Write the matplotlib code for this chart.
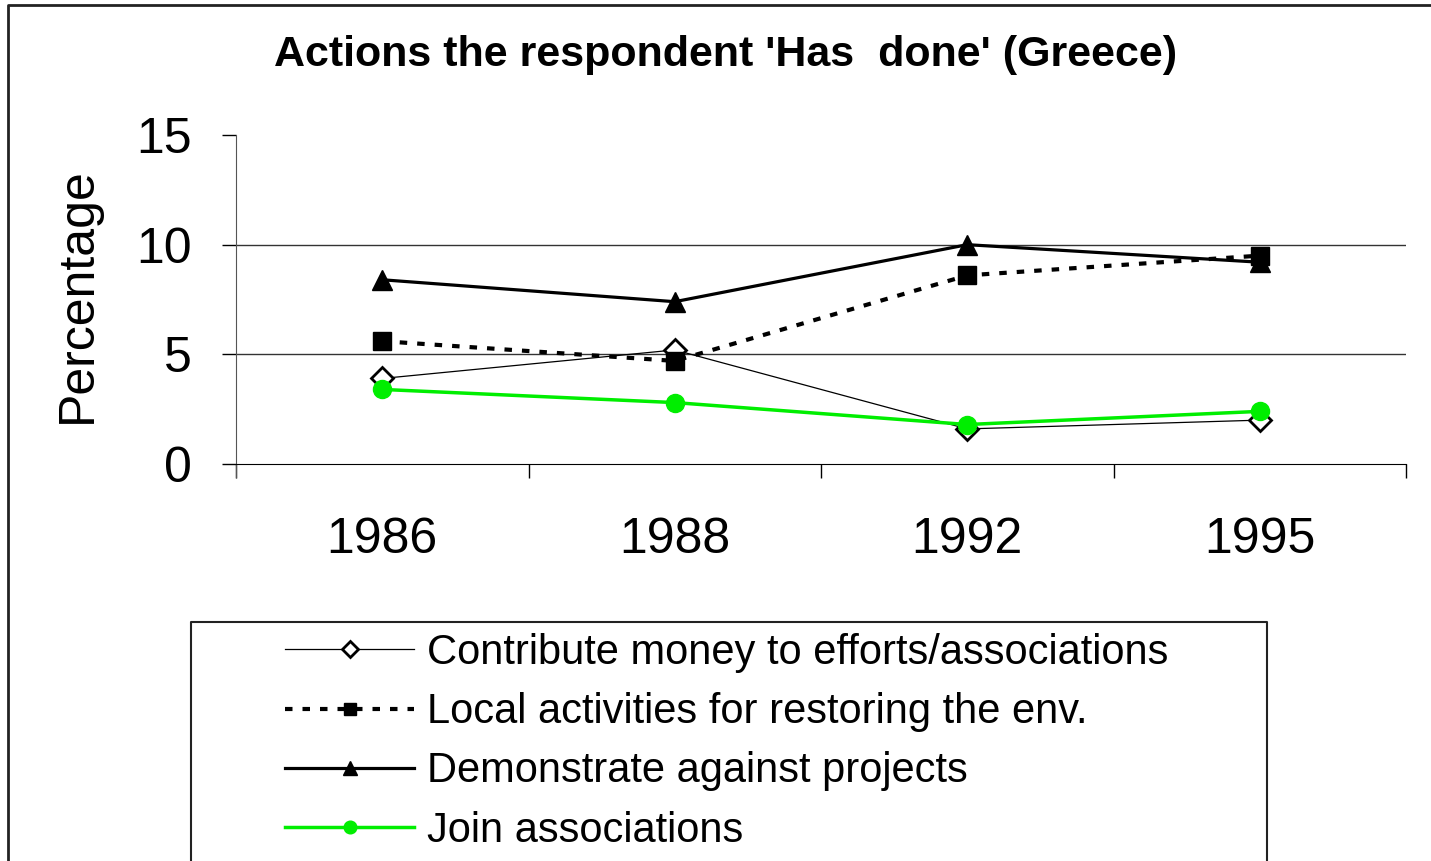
import numpy as np
from matplotlib import pyplot as plt
from matplotlib.lines import Line2D

plt.rcParams['font.family'] = ['Liberation Sans', 'DejaVu Sans']

years = ["1986", "1988", "1992", "1995"]
contribute = [3.9, 5.2, 1.6, 2.0]
local_activities = [5.6, 4.7, 8.6, 9.5]
demonstrate = [8.4, 7.4, 10.0, 9.2]
join = [3.4, 2.8, 1.8, 2.4]

labels = [
    "Contribute money to efforts/associations",
    "Local activities for restoring the env.",
    "Demonstrate against projects",
    "Join associations",
]

W, H = 1431, 861
fig = plt.figure(figsize=(W / 100, H / 100), dpi=100)
ax = fig.add_axes([236 / W, 1 - 464 / H, 1170 / W, 329 / H])

x = np.arange(len(years))

ax.plot(x, contribute, color="black", lw=0.9, marker="D", ms=11,
        mfc="white", mec="black", mew=2, label=labels[0], zorder=3)
ax.plot(x, local_activities, color="black", lw=3, ls=(0, (1.8, 2.4)),
        marker="s", ms=13, mfc="black", mec="black", label=labels[1], zorder=4)
ax.plot(x, demonstrate, color="black", lw=2.3, marker="^", ms=15,
        mfc="black", mec="black", label=labels[2], zorder=3)
ax.plot(x, join, color="#00ee00", lw=2.5, marker="o", ms=13,
        mfc="#00ee00", mec="#00ee00", label=labels[3], zorder=5)

ax.set_xlim(-0.5, len(years) - 0.5)
ax.set_ylim(0, 15)
ax.set_yticks([0, 5, 10, 15])
ax.set_xticks(x)
ax.set_xticklabels(years)
ax.set_xticks(np.arange(-0.5, len(years)), minor=True)
ax.tick_params(axis="x", which="major", length=0, pad=38, labelsize=36)
ax.tick_params(axis="x", which="minor", length=10, width=1, direction="out")
ax.tick_params(axis="y", length=10, width=1, direction="out", pad=22, labelsize=36)

# gridlines only at 5 and 10
for v in [5, 10]:
    ax.axhline(v, color="#333333", lw=1, zorder=1)

ax.spines["top"].set_visible(False)
ax.spines["right"].set_visible(False)
ax.spines["left"].set_bounds(-0.6, 15)
ax.spines["left"].set_color("#555555")

fig.text(726 / W, 1 - 55 / H, "Actions the respondent 'Has  done' (Greece)",
         ha="center", va="center", fontsize=31, fontweight="bold")
fig.text(78 / W, 1 - 295 / H, "Percentage", rotation=90,
         ha="center", va="center", fontsize=36)

leg = ax.legend(loc="upper left", bbox_to_anchor=(285 / W, 1 - 633 / H),
                bbox_transform=fig.transFigure, frameon=False, fontsize=30,
                borderpad=0, borderaxespad=0, handlelength=3.1,
                handletextpad=0.3, labelspacing=0.46, markerscale=0.7)

# legend box (open at the bottom) and chart border (top and left only)
lx0, lx1, ly = 191 / W, 1267 / W, 1 - 622 / H
fig.add_artist(Line2D([lx0, lx0, lx1, lx1], [0, ly, ly, 0],
                      transform=fig.transFigure, color="#222222", lw=1.5))
fig.add_artist(Line2D([8 / W, 8 / W, 1], [0, 1 - 5 / H, 1 - 5 / H],
                      transform=fig.transFigure, color="#222222", lw=2))

fig.savefig("out.png", dpi=100)
